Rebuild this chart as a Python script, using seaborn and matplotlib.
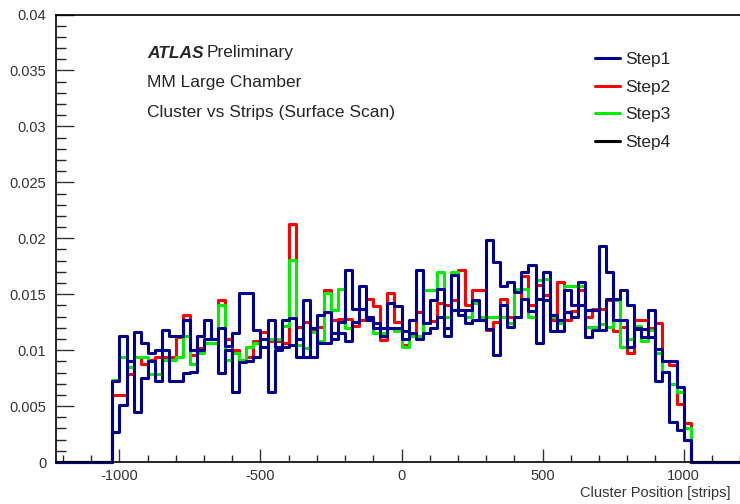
import numpy as np
import pandas as pd
import matplotlib
matplotlib.use('Agg')
import matplotlib.pyplot as plt
from matplotlib.lines import Line2D
from matplotlib.ticker import MultipleLocator, FuncFormatter
import seaborn as sns

#DATA: cluster fraction per 25-strip bin, from -1025 to 1025 (values in units of 1e-3)
####################################################################################################

bin_lo, bin_hi, bin_w = -1225, 1225, 25

step1 = [7.2, 11.3, 9.0, 11.6, 10.6, 9.7, 10.0, 11.8, 11.3, 11.3,
         12.7, 10.0, 11.3, 12.7, 11.0, 12.0, 10.4, 11.5, 15.1, 15.1,
         11.8, 10.3, 12.7, 10.3, 12.7, 12.9, 9.4, 14.5, 9.4, 13.1,
         13.4, 11.0, 12.5, 17.2, 13.7, 15.7, 12.7, 12.0, 11.3, 14.2,
         13.9, 11.7, 12.7, 17.2, 12.4, 14.5, 15.5, 11.3, 16.7, 13.1,
         13.6, 14.5, 12.7, 19.8, 17.9, 15.7, 16.1, 15.2, 17.0, 17.6,
         10.6, 17.0, 13.1, 11.7, 15.4, 14.0, 16.1, 11.2, 11.8, 19.3,
         17.0, 14.6, 15.4, 14.0, 12.0, 11.2, 13.6, 10.1, 9.0, 9.0,
         6.7, 2.0]

step2 = [6.0, 6.0, 7.9, 9.4, 8.8, 9.1, 9.4, 9.4, 9.4, 11.2,
         13.1, 9.6, 10.2, 10.6, 10.6, 14.5, 11.0, 10.0, 9.0, 9.4,
         10.8, 11.6, 10.8, 10.8, 10.6, 21.3, 12.1, 12.5, 11.9, 12.1,
         15.4, 12.7, 12.8, 12.8, 12.2, 12.7, 14.6, 13.9, 10.9, 15.1,
         12.5, 10.5, 11.5, 13.4, 12.4, 12.6, 14.2, 14.0, 14.5, 17.2,
         14.0, 15.4, 15.4, 11.8, 12.5, 14.6, 13.0, 13.0, 16.6, 14.0,
         15.8, 14.9, 12.7, 16.1, 12.7, 13.5, 15.4, 13.0, 13.7, 13.7,
         14.5, 11.7, 12.1, 9.7, 12.7, 12.7, 12.0, 12.4, 9.0, 8.7,
         5.2, 3.5]

step3 = [7.3, 9.4, 8.5, 9.4, 9.4, 7.9, 7.9, 9.1, 9.1, 9.4,
         11.3, 8.8, 9.7, 10.6, 10.6, 14.0, 9.1, 9.7, 9.1, 10.3,
         10.6, 11.0, 11.0, 11.0, 12.2, 18.1, 10.5, 10.2, 11.6, 10.8,
         15.1, 13.6, 15.5, 12.0, 12.5, 13.7, 13.0, 11.5, 11.5, 12.0,
         11.7, 10.3, 11.3, 11.3, 15.4, 15.4, 17.0, 13.0, 17.0, 13.6,
         13.0, 14.2, 13.0, 13.0, 13.0, 13.0, 12.4, 15.5, 15.5, 13.0,
         16.3, 16.4, 13.0, 12.4, 15.7, 15.7, 15.7, 12.1, 12.1, 12.3,
         12.1, 14.5, 10.3, 11.0, 12.2, 10.8, 11.8, 9.7, 8.0, 7.0,
         6.3, 3.0]

step4 = [2.7, 5.1, 9.0, 4.5, 7.5, 9.0, 7.2, 10.0, 7.2, 7.2,
         8.0, 8.0, 10.0, 11.0, 11.0, 8.0, 10.0, 6.3, 8.9, 9.0,
         9.4, 11.0, 6.3, 10.0, 10.3, 10.5, 11.0, 9.4, 12.0, 10.6,
         10.6, 11.5, 11.5, 10.8, 12.5, 13.7, 13.0, 12.4, 12.0, 12.0,
         12.0, 11.0, 11.5, 11.0, 11.5, 12.0, 13.0, 12.0, 13.6, 13.6,
         12.4, 12.7, 12.7, 11.9, 9.6, 14.0, 12.1, 13.0, 14.6, 13.5,
         14.6, 14.5, 11.7, 12.7, 13.4, 13.0, 14.0, 13.6, 13.6, 11.8,
         14.6, 12.7, 12.7, 10.3, 11.9, 11.9, 11.2, 7.2, 8.0, 3.6,
         2.9, 2.0]

labels = ['Step1', 'Step2', 'Step3', 'Step4']
legend_colors = ['#00008f', '#ff0000', '#00ee00', '#000000']

#BUILD LONG TABLE (empty bins outside the chamber)
####################################################################################################

edges = np.arange(bin_lo, bin_hi + bin_w, bin_w)
centers = edges[:-1] + bin_w / 2
n_pad = (len(centers) - len(step1)) // 2

rows = []
for name, vals in zip(labels, [step1, step2, step3, step4]):
    full = np.concatenate([np.zeros(n_pad), np.array(vals) * 1e-3, np.zeros(n_pad)])
    rows.append(pd.DataFrame({'pos': centers, 'frac': full, 'step': name}))
df = pd.concat(rows, ignore_index=True)

#PLOT
####################################################################################################

sns.set_style('ticks')
plt.rcParams['font.family'] = ['Liberation Sans', 'DejaVu Sans']

fig = plt.figure(figsize=(7.4, 5.04), dpi=100)
ax = fig.add_axes([56 / 740, 42 / 504, 684 / 740, 447.5 / 504])

#draw order: red, green, then the two navy traces on top
draw = [('Step2', '#ff0000'), ('Step3', '#00ee00'), ('Step4', '#00008f'), ('Step1', '#00008f')]
for name, col in draw:
    sub = df[df['step'] == name]
    sns.histplot(data=sub, x='pos', weights='frac', bins=list(edges), element='step', fill=False,
                 color=col, linewidth=2.2, ax=ax, clip_on=False)

ax.set_xlim(-1225, 1200)
ax.set_ylim(0, 0.04)
ax.set_xlabel('')
ax.set_ylabel('')

ax.xaxis.set_major_locator(MultipleLocator(500))
ax.xaxis.set_minor_locator(MultipleLocator(100))
ax.yaxis.set_major_locator(MultipleLocator(0.005))
ax.yaxis.set_minor_locator(MultipleLocator(0.001))
ax.yaxis.set_major_formatter(FuncFormatter(lambda v, p: '%g' % round(v, 4)))
ax.xaxis.set_major_formatter(FuncFormatter(lambda v, p: '%g' % v))

ax.tick_params(axis='x', which='major', direction='in', length=9.5, width=1, pad=5, labelsize=10.5, colors='#333333')
ax.tick_params(axis='x', which='minor', direction='in', length=5, width=1)
ax.tick_params(axis='y', which='major', direction='in', length=13, width=1, pad=7, labelsize=10.5, colors='#333333')
ax.tick_params(axis='y', which='minor', direction='in', length=7, width=1)
for t in ax.get_xticklines(minor=True) + ax.get_yticklines(minor=True) + ax.get_xticklines() + ax.get_yticklines():
    t.set_color('black')

ax.spines['right'].set_visible(False)
for s in ['left', 'top', 'bottom']:
    ax.spines[s].set_linewidth(1.2)
    ax.spines[s].set_color('black')

fig.text(730 / 740, 1 - 493 / 504, 'Cluster Position [strips]', ha='right', va='center', fontsize=10.5, color='#333333')

#ATLAS labels
fig.text(147 / 740, 1 - 53 / 504, 'ATLAS', fontweight='bold', fontstyle='italic', fontsize=12.5, va='center')
fig.text(207 / 740, 1 - 53 / 504, 'Preliminary', fontsize=12.5, va='center')
fig.text(147 / 740, 1 - 83 / 504, 'MM Large Chamber', fontsize=12.5, va='center')
fig.text(147 / 740, 1 - 112 / 504, 'Cluster vs Strips (Surface Scan)', fontsize=12.5, va='center')

handles = [Line2D([], [], color=c, lw=2.2) for c in legend_colors]
ax.legend(handles, labels, loc='upper left', bbox_to_anchor=(595 / 740, 1 - 52 / 504),
          bbox_transform=fig.transFigure, frameon=False, borderpad=0, borderaxespad=0,
          handlelength=1.45, handletextpad=0.3, labelspacing=0.72, fontsize=12.5)

plt.savefig('out.png', dpi=100)
